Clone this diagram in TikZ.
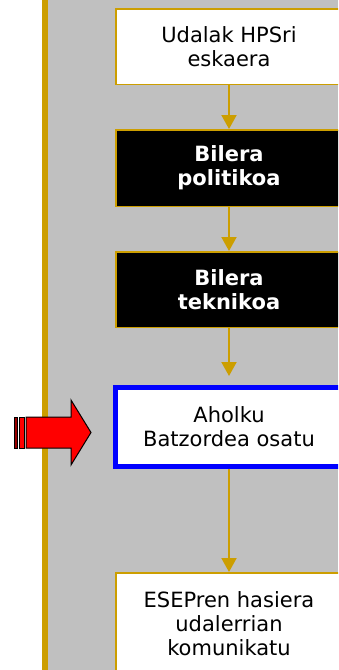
\documentclass[tikz,border=0pt]{standalone}
\usepackage{fontspec}
\setmainfont{DejaVu Sans}
\usetikzlibrary{arrows.meta}
\definecolor{gold}{RGB}{204,158,0}
\definecolor{bggray}{RGB}{192,192,192}
\definecolor{blueb}{RGB}{0,0,255}
\tikzset{
  box/.style={draw=gold, line width=1.5pt, fill=white, minimum width=226.5pt, inner sep=0pt,
    align=center, font=\fontsize{21}{24}\selectfont, text=black},
  darkbox/.style={box, fill=black, text=white, font=\fontsize{21}{24}\selectfont\bfseries},
  bluebox/.style={box, draw=blueb, line width=5pt, minimum width=227pt},
  flow/.style={draw=gold, line width=2pt, -{Triangle[width=15pt,length=14pt]}},
  redarrow/.style={fill=red, draw=black, line width=1pt, line join=miter}
}
\begin{document}
\begin{tikzpicture}[x=1pt,y=-1pt]
\useasboundingbox (0,0) rectangle (338,670);
\clip (0,0) rectangle (338,670);
\fill[white] (0,0) rectangle (338,670);
\fill[bggray] (47,0) rectangle (338,670);
\fill[gold] (42,0) rectangle (47.5,670);

\node[box, minimum height=75.5pt] (b1) at (229,46.5) {Udalak HPSri\\eskaera};
\node[darkbox, minimum height=76.5pt] (b2) at (229,168) {Bilera\\politikoa};
\node[darkbox, minimum height=75.5pt] (b3) at (229,289.5) {Bilera\\teknikoa};
\node[bluebox, minimum height=79pt] (b4) at (229,427) {Aholku\\Batzordea osatu};
\node[box, minimum height=102.5pt] (b5) at (229,624) {ESEPren hasiera\\udalerrian\\komunikatu};

\draw[flow] (b1.south) -- (b2.north);
\draw[flow] (b2.south) -- (b3.north);
\draw[flow, shorten >=9pt] (b3.south) -- (b4.north);
\draw[flow, shorten <=-0.5pt] (b4.south) -- (b5.north);

% red block arrow pointing at b4
\draw[redarrow, fill=red!60!black] (14.5,417) rectangle (17.5,448);
\draw[redarrow] (19.5,417) rectangle (24.5,448);
\draw[redarrow] (26,417) -- (71,417) -- (71,400) -- (91,432.5) -- (71,465) -- (71,448) -- (26,448) -- cycle;
\end{tikzpicture}
\end{document}
